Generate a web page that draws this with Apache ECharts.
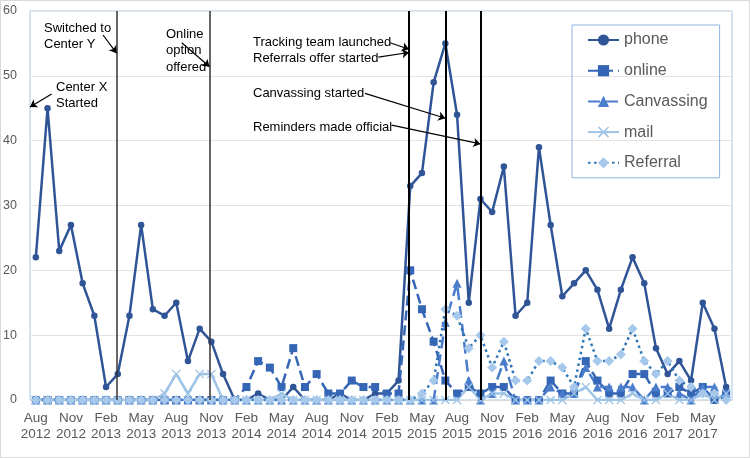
<!DOCTYPE html>
<html>
<head>
<meta charset="utf-8">
<script src="https://cdn.jsdelivr.net/npm/echarts@6/dist/echarts.min.js"></script>
<style>
  html, body { margin: 0; padding: 0; background: #fff; }
  #main { width: 750px; height: 458px; }
</style>
</head>
<body>
<div id="main"></div>
<script>
// months, Aug 2012 .. Jul 2017
const months = [
  'Aug 2012','Sep 2012','Oct 2012','Nov 2012','Dec 2012','Jan 2013','Feb 2013','Mar 2013','Apr 2013','May 2013','Jun 2013','Jul 2013',
  'Aug 2013','Sep 2013','Oct 2013','Nov 2013','Dec 2013','Jan 2014','Feb 2014','Mar 2014','Apr 2014','May 2014','Jun 2014','Jul 2014',
  'Aug 2014','Sep 2014','Oct 2014','Nov 2014','Dec 2014','Jan 2015','Feb 2015','Mar 2015','Apr 2015','May 2015','Jun 2015','Jul 2015',
  'Aug 2015','Sep 2015','Oct 2015','Nov 2015','Dec 2015','Jan 2016','Feb 2016','Mar 2016','Apr 2016','May 2016','Jun 2016','Jul 2016',
  'Aug 2016','Sep 2016','Oct 2016','Nov 2016','Dec 2016','Jan 2017','Feb 2017','Mar 2017','Apr 2017','May 2017','Jun 2017','Jul 2017'
];

const phone = [22,45,23,27,18,13,2,4,13,27,14,13, 15,6,11,9,4,0,0,1,0,0,2,0,
  0,0,1,0,0,1,1,3,33,35,49,55, 44,15,31,29,36,13,15,39,27,16,18,20, 17,11,17,22,18,8,4,6,3,15,11,2];
const online = [0,0,0,0,0,0,0,0,0,0,0,0, 0,0,0,0,0,0,2,6,5,2,8,2,
  4,1,1,3,2,2,1,1,20,14,9,3, 1,2,1,2,2,0,0,0,3,1,1,6, 3,1,1,4,4,1,1,2,1,2,0,1];
const canvassing = [0,0,0,0,0,0,0,0,0,0,0,0, 0,0,0,0,0,0,0,0,0,0,0,0,
  0,0,0,0,0,0,0,0,0,0,0,12, 18,3,0,1,6,0,0,0,2,1,1,5, 2,2,2,2,0,2,2,1,0,2,2,1];
const mail = [0,0,0,0,0,0,0,0,0,0,0,1, 4,1,4,4,0,0,0,0,0,1,0,0,
  0,0,0,0,0,0,0,0,0,0,0,0, 0,2,0,1,1,0,0,0,0,0,1,2, 0,0,0,1,0,0,1,0,0,1,0,1];
const referral = [0,0,0,0,0,0,0,0,0,0,0,0, 0,0,0,0,0,0,0,0,0,0,0,0,
  0,0,0,0,0,0,0,0,0,1,3,14, 13,8,10,5,9,3,3,6,6,5,2,11, 6,6,7,11,6,4,6,3,2,1,1,0];

const yTicks = [0, 60, 10]; // min, max, step

// event lines, in month-index units (0 = Aug 2012)
const eventLines = [6.9, 14.85, 31.9, 35.0, 38.0];

// annotation arrows: [fromIndex, fromValue, toIndex, toValue]
const arrows = [
  [1.35, 47.2, -0.5, 45.2],
  [5.74, 56.3, 6.9, 53.5],
  [12.47, 55.1, 14.85, 51.4],
  [30.27, 55.1, 31.9, 54.1],
  [29.27, 52.9, 31.9, 53.6],
  [28.13, 47.3, 35.0, 43.45],
  [30.41, 42.4, 38.0, 39.5]
];

const chart = echarts.init(document.getElementById('main'));

const xMark = 'path://M0,1L1,0L5,4L9,0L10,1L6,5L10,9L9,10L5,6L1,10L0,9L4,5Z';
const annFont = '13px "Liberation Sans", Arial, sans-serif';

function annText(left, top, text, align) {
  return {
    type: 'text', left: left, top: top, z: 100,
    style: { text: text, font: annFont, fill: '#000', lineHeight: 16.5, align: align || 'left' }
  };
}

const option = {
  backgroundColor: '#fff',
  animation: false,
  textStyle: { fontFamily: '"Liberation Sans", Arial, sans-serif' },
  grid: {
    left: 30, right: 18, top: 11, bottom: 58,
    show: true, borderColor: '#a8c8ea', borderWidth: 1
  },
  legend: {
    orient: 'vertical',
    left: 572, top: 25,
    padding: [7, 12, 7, 15],
    itemWidth: 31, itemHeight: 14, itemGap: 14.7,
    borderColor: '#8fb4e3', borderWidth: 1,
    textStyle: { fontSize: 16, color: '#595959' },
    data: ['phone', 'online', 'Canvassing', 'mail', 'Referral']
  },
  xAxis: [
    {
      type: 'category',
      data: months,
      boundaryGap: true,
      axisTick: { show: false },
      axisLine: { show: true, lineStyle: { color: '#d9d9d9' } },
      axisLabel: {
        interval: 2, margin: 10,
        fontSize: 13.5, color: '#595959', lineHeight: 16,
        formatter: v => v.replace(' ', '\n')
      },
      splitLine: { show: false }
    },
    {
      type: 'value', min: -0.5, max: 59.5, show: false,
      splitLine: { show: false }
    }
  ],
  yAxis: {
    type: 'value', min: yTicks[0], max: yTicks[1], interval: yTicks[2],
    axisLine: { show: false }, axisTick: { show: false },
    axisLabel: { fontSize: 12.5, color: '#595959', margin: 13 },
    splitLine: { lineStyle: { color: '#e3e3e3', width: 1 } }
  },
  graphic: [
    { type: 'rect', shape: { x: 0.5, y: 0.5, width: 749, height: 457 }, style: { fill: 'none', stroke: '#d9d9d9' }, silent: true },
    annText(56, 79, 'Center X\nStarted'),
    annText(44, 20, 'Switched to\nCenter Y'),
    annText(166, 26, 'Online\noption\noffered', 'center'),
    annText(253, 34, 'Tracking team launched'),
    annText(253, 50, 'Referrals offer started'),
    annText(253, 85, 'Canvassing started'),
    annText(253, 119, 'Reminders made official')
  ],
  series: [
    {
      name: 'phone', type: 'line', data: phone, showAllSymbol: true,
      symbol: 'circle', symbolSize: 6.5,
      lineStyle: { color: '#2f5597', width: 2.5 },
      itemStyle: { color: '#2f5597' }
    },
    {
      name: 'online', type: 'line', data: online, showAllSymbol: true,
      symbol: 'rect', symbolSize: 8,
      lineStyle: { color: '#3565b5', width: 2.5, type: [10, 5] },
      itemStyle: { color: '#3565b5' }
    },
    {
      name: 'Canvassing', type: 'line', data: canvassing, showAllSymbol: true,
      symbol: 'triangle', symbolSize: 9,
      lineStyle: { color: '#4a7ccc', width: 2.5, type: [12, 6] },
      itemStyle: { color: '#4a7ccc' }
    },
    {
      name: 'mail', type: 'line', data: mail, showAllSymbol: true,
      symbol: xMark, symbolSize: 9,
      lineStyle: { color: '#9dc3e6', width: 2.5 },
      itemStyle: { color: '#9dc3e6' }
    },
    {
      name: 'Referral', type: 'line', data: referral, showAllSymbol: true,
      symbol: 'diamond', symbolSize: 10,
      lineStyle: { color: '#2e75b6', width: 2.5, type: [2.5, 3.5] },
      itemStyle: { color: '#a5c8eb' }
    },
    {
      name: 'events', type: 'line', xAxisIndex: 1, yAxisIndex: 0, data: [],
      silent: true,
      markLine: {
        silent: true, animation: false,
        symbol: ['none', 'none'],
        label: { show: false },
        data: eventLines.map((x, i) => ({
          xAxis: x,
          lineStyle: { color: i < 2 ? '#333' : '#000', width: i < 2 ? 1.5 : 2, type: 'solid' }
        }))
      }
    },
    {
      name: 'arrows', type: 'line', xAxisIndex: 1, yAxisIndex: 0, data: [],
      silent: true, z: 50,
      markLine: {
        silent: true, animation: false,
        symbol: ['none', 'arrow'], symbolSize: 7,
        label: { show: false },
        lineStyle: { color: '#000', width: 1.2, type: 'solid' },
        data: arrows.map(a => [{ coord: [a[0], a[1]] }, { coord: [a[2], a[3]] }])
      }
    }
  ]
};

chart.setOption(option);
</script>
</body>
</html>
